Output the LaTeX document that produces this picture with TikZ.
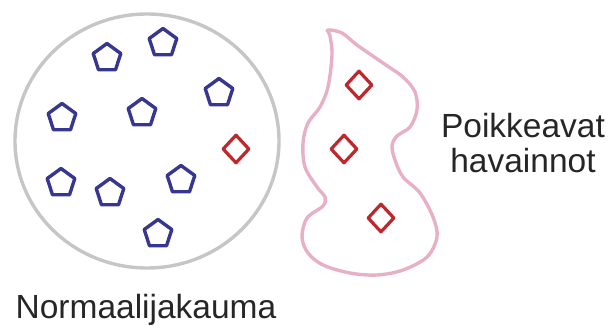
\documentclass[tikz,border=0pt]{standalone}
\usepackage{fontspec}
\setmainfont{Liberation Sans}
\usetikzlibrary{shapes.geometric}
\definecolor{penblue}{RGB}{55,55,145}
\definecolor{dred}{RGB}{190,40,45}
\definecolor{pinkline}{RGB}{232,176,198}
\definecolor{grayline}{RGB}{198,198,198}
\tikzset{
  pent/.style={regular polygon, regular polygon sides=5, minimum size=29pt, inner sep=0pt, draw=penblue, line width=3.4pt, line join=round},
  dia/.style={diamond, minimum width=27pt, minimum height=29pt, inner sep=0pt, draw=dred, line width=3.2pt, line join=round},
  lbl/.style={font=\fontsize{33.5}{35}\selectfont, text=black!85, inner sep=0pt, align=center}
}
\begin{document}
\begin{tikzpicture}[x=1pt,y=-1pt]
\useasboundingbox (0,0) rectangle (611,326);
\draw[grayline, line width=3.4pt] (147,141) ellipse [x radius=132, y radius=127];
\draw[pinkline, line width=3.4pt] plot[smooth cycle, tension=0.55] coordinates {
 (328,30) (342,33) (357,45) (383,63) (403,77) (415,92) (417,110) (410,127) (397,136) (392,146)
 (395,160) (403,177) (420,193) (433,217) (437,237) (427,257) (403,270) (377,275) (350,273)
 (323,265) (308,253) (302,237) (307,218) (323,206) (325,197) (317,187) (305,167) (303,143)
 (308,123) (320,107) (328,87) (332,55) (330,36)};
\node[pent] (p1) at (163,43) {};
\node[pent] (p2) at (107,58) {};
\node[pent] (p3) at (219,93) {};
\node[pent] (p4) at (142,113) {};
\node[pent] (p5) at (62,118) {};
\node[pent] (p6) at (61,183) {};
\node[pent] (p7) at (110,193) {};
\node[pent] (p8) at (181,180) {};
\node[pent] (p9) at (158,234) {};
\node[dia] (d1) at (236,149) {};
\node[dia] (d2) at (359,85) {};
\node[dia] (d3) at (344,149) {};
\node[dia] (d4) at (381,218) {};
\node[lbl, anchor=base] (t1) at (146,318) {Normaalijakauma};
\node[lbl, anchor=base] (t2) at (523,173) {Poikkeavat\\havainnot};
\end{tikzpicture}
\end{document}
